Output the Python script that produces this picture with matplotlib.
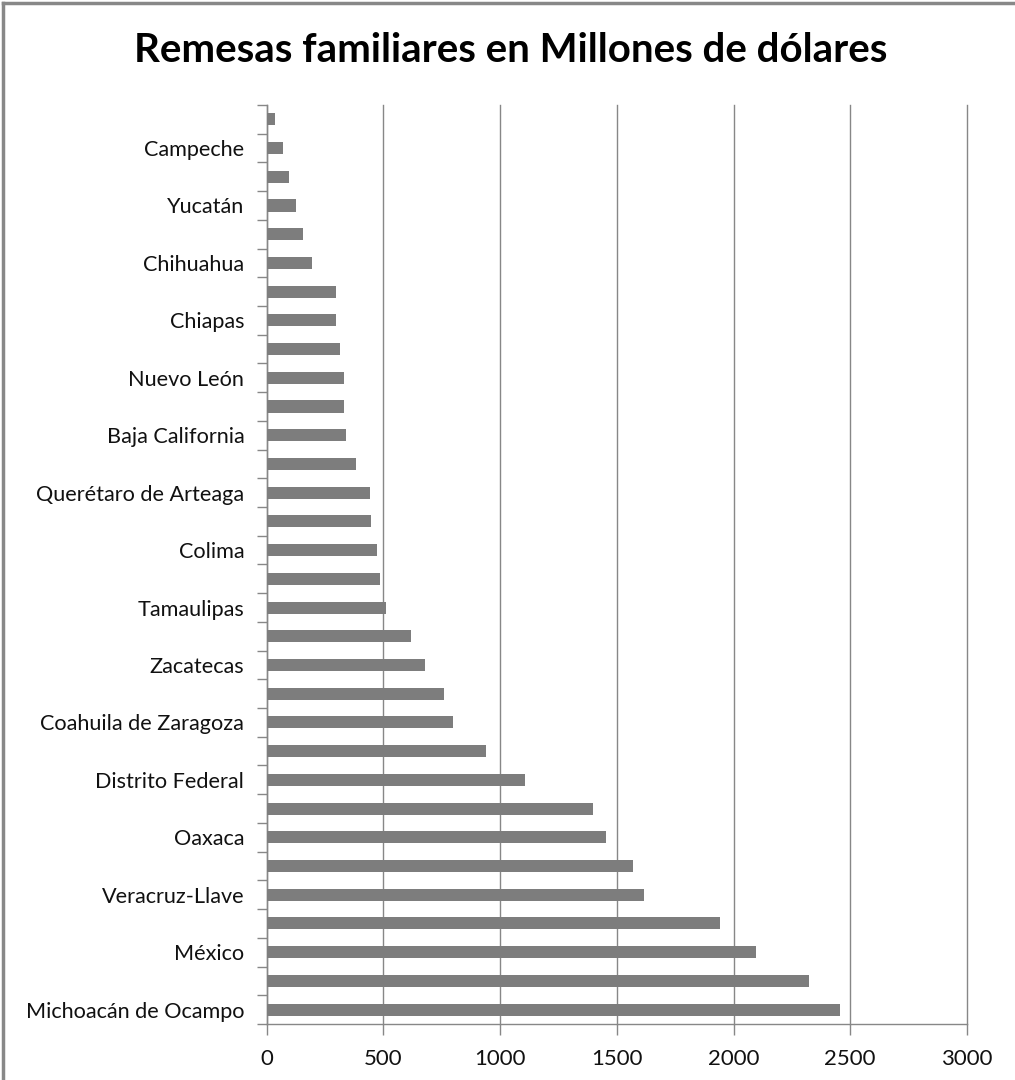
import numpy as np
import matplotlib.pyplot as plt
from matplotlib.lines import Line2D
from matplotlib.ticker import FixedLocator

# remesas por estado, de abajo hacia arriba
estados = [
    "Michoacán de Ocampo", "Guanajuato", "México", "Jalisco",
    "Veracruz-Llave", "Puebla", "Oaxaca", "Guerrero",
    "Distrito Federal", "Hidalgo", "Coahuila de Zaragoza", "San Luis Potosí",
    "Zacatecas", "Morelos", "Tamaulipas", "Nayarit",
    "Colima", "Sinaloa", "Querétaro de Arteaga", "Durango",
    "Baja California", "Aguascalientes", "Nuevo León", "Sonora",
    "Chiapas", "Tlaxcala", "Chihuahua", "Tabasco",
    "Yucatán", "Quintana Roo", "Campeche", "Baja California Sur",
]
remesas = [
    2456, 2323, 2096, 1941,
    1617, 1570, 1456, 1399,
    1106, 939, 799, 760,
    677, 617, 510, 486,
    473, 447, 441, 383,
    340, 330, 330, 316,
    297, 297, 196, 156,
    126, 95, 71, 35,
]
xticks = [0, 500, 1000, 1500, 2000, 2500, 3000]

plt.rcParams["font.family"] = ["Lato", "DejaVu Sans"]

fig = plt.figure(figsize=(10.15, 10.8), dpi=100)
ax = fig.add_axes([0.2626, 0.0519, 0.6901, 0.8509])

gris = "#878787"
pos = np.arange(len(estados))
ax.barh(pos, remesas, height=0.42, color="#7d7d7d", zorder=3)

ax.set_xlim(0, 3000)
ax.set_ylim(-0.5, len(estados) - 0.5)

ax.set_xticks(xticks)
ax.set_xticklabels([str(v) for v in xticks], fontsize=16, color="#111111")
ax.xaxis.grid(True, color=gris, linewidth=1, zorder=0)
for linea in ax.get_xgridlines():
    linea.set_clip_on(False)

# solo se rotula una categoría de cada dos
ax.set_yticks(pos[::2])
ax.set_yticklabels(estados[::2], fontsize=15.6, color="#111111")
ax.yaxis.set_minor_locator(FixedLocator(np.arange(-0.5, len(estados), 1)))
ax.tick_params(axis="y", which="major", length=0, pad=16)
ax.tick_params(axis="y", which="minor", length=7, color=gris, width=1)
ax.tick_params(axis="x", which="major", length=8, color=gris, width=1, pad=10)

for lado in ["top", "right"]:
    ax.spines[lado].set_visible(False)
for lado in ["left", "bottom"]:
    ax.spines[lado].set_color(gris)
    ax.spines[lado].set_linewidth(1)

fig.text(0.503, 0.953, "Remesas familiares en Millones de dólares",
         ha="center", va="center", fontsize=29, fontweight="bold")

# marco del gráfico
fig.add_artist(Line2D([0.003, 1.0], [0.997, 0.997], color="#888888", linewidth=2.5,
                      transform=fig.transFigure))
fig.add_artist(Line2D([0.003, 0.003], [0.0, 0.997], color="#888888", linewidth=2.5,
                      transform=fig.transFigure))

fig.savefig("out.png", dpi=100, facecolor="white")
